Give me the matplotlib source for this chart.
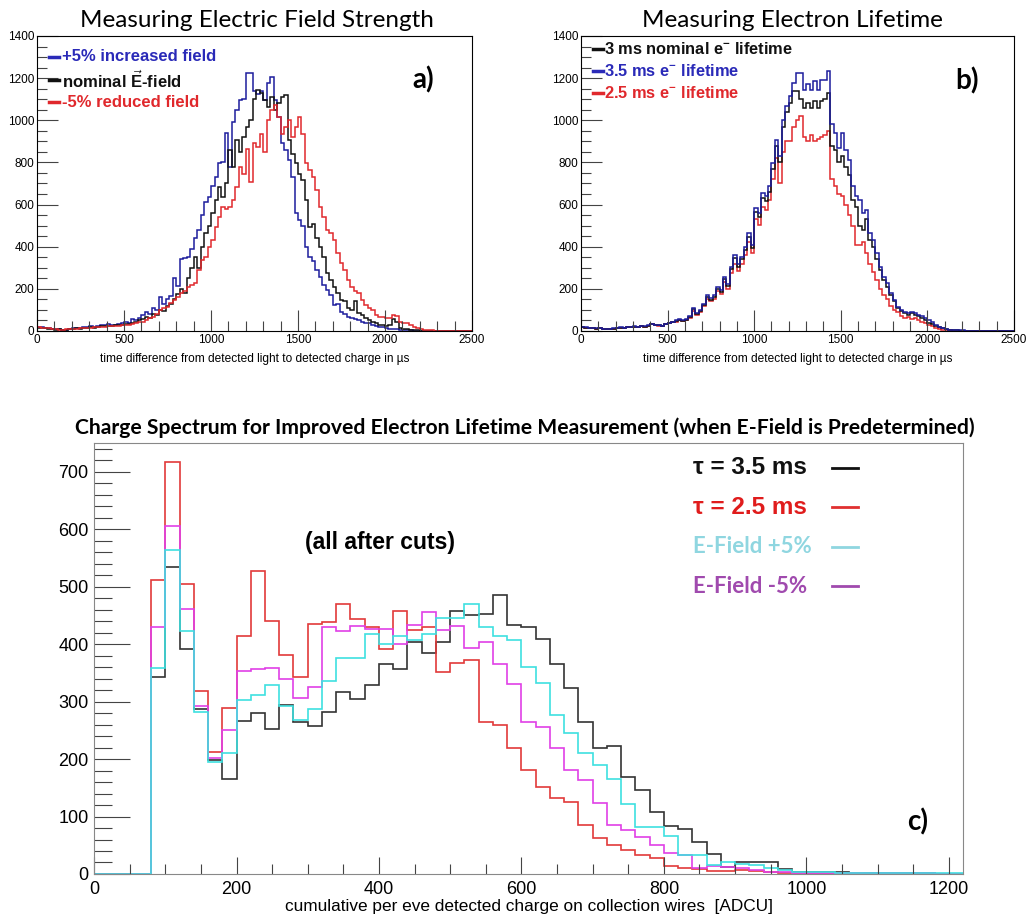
import numpy as np
import matplotlib
matplotlib.use("Agg")
import matplotlib.pyplot as plt
from matplotlib.ticker import MultipleLocator

plt.rcParams['font.family'] = ['Liberation Sans', 'DejaVu Sans']
plt.rcParams['mathtext.fontset'] = 'custom'
plt.rcParams['mathtext.rm'] = 'Liberation Sans'
plt.rcParams['mathtext.bf'] = 'Liberation Sans:bold'

# ---- panel a / b : drift time histograms, 20 us bins from 0 to 2500 ----
time_edges = np.arange(0, 2501, 20)

a_plus5 = [20, 18, 15, 12, 10, 8, 10, 6, 5, 8,
           12, 15, 12, 18, 20, 22, 18, 25, 28, 30,
           32, 28, 30, 35, 38, 45, 40, 55, 50, 60,
           75, 90, 80, 110, 100, 160, 130, 150, 165, 250,
           215, 340, 345, 350, 390, 440, 480, 550, 610, 635,
           690, 730, 795, 800, 940, 780, 990, 1050, 1095, 1100,
           1225, 1225, 1140, 1125, 1140, 1095, 1175, 1205, 1095, 1015,
           890, 858, 810, 730, 558, 525, 500, 400, 350, 330,
           290, 258, 220, 195, 170, 123, 130, 92, 80, 68,
           60, 55, 52, 45, 40, 36, 30, 25, 20, 18,
           15, 10, 8, 8, 5, 4, 3, 3, 2, 2,
           1, 1, 1, 1, 0, 1, 0, 0, 0, 0,
           0, 0, 0, 0, 0]
a_nominal = [15, 14, 12, 10, 8, 6, 8, 5, 6, 8,
             10, 12, 10, 15, 15, 18, 15, 20, 22, 25,
             25, 22, 28, 30, 30, 35, 32, 40, 45, 50,
             55, 65, 60, 80, 75, 100, 95, 120, 130, 150,
             175, 200, 180, 250, 300, 350, 300, 400, 463, 500,
             560, 620, 684, 636, 700, 858, 780, 905, 850, 920,
             970, 1000, 1100, 1145, 1130, 1095, 1063, 1110, 1048, 1080,
             1110, 1120, 905, 842, 795, 747, 715, 620, 495, 510,
             440, 400, 350, 273, 240, 210, 178, 147, 140, 110,
             100, 140, 85, 75, 60, 52, 45, 36, 30, 28,
             25, 28, 55, 45, 13, 10, 8, 5, 4, 3,
             2, 2, 1, 1, 1, 0, 0, 0, 0, 0,
             0, 0, 0, 0, 0]
a_minus5 = [18, 15, 15, 12, 10, 8, 5, 5, 8, 8,
            10, 10, 12, 12, 15, 15, 18, 18, 20, 20,
            22, 22, 25, 25, 28, 30, 30, 35, 40, 45,
            45, 52, 60, 68, 80, 100, 110, 115, 135, 147,
            160, 178, 190, 210, 218, 226, 290, 337, 350, 400,
            430, 495, 540, 590, 580, 590, 620, 684, 780, 747,
            866, 708, 890, 874, 937, 850, 1000, 1048, 1071, 1015,
            937, 970, 1000, 920, 970, 1015, 937, 795, 763, 731,
            668, 590, 540, 480, 463, 432, 368, 321, 290, 242,
            210, 190, 178, 147, 123, 110, 100, 76, 68, 65,
            60, 62, 76, 70, 44, 40, 36, 28, 20, 13,
            10, 5, 4, 3, 2, 2, 1, 1, 1, 0,
            0, 0, 0, 0, 0]

b_3ms = [18, 16, 14, 12, 11, 14, 10, 8, 9, 11,
         14, 16, 14, 18, 17, 20, 19, 23, 21, 26,
         33, 28, 27, 24, 33, 38, 43, 48, 52, 48,
         52, 66, 102, 80, 95, 125, 162, 148, 162, 200,
         186, 248, 215, 295, 345, 305, 340, 385, 445, 392,
         565, 540, 630, 615, 660, 770, 880, 800, 970, 1040,
         1080, 1140, 1140, 1100, 1060, 1080, 1060, 1090, 1060, 1090,
         1100, 1130, 880, 860, 800, 830, 780, 740, 620, 590,
         500, 480, 530, 430, 400, 340, 290, 240, 210, 170,
         140, 110, 95, 85, 75, 85, 75, 70, 60, 50,
         40, 35, 25, 18, 12, 8, 5, 4, 3, 2,
         2, 2, 1, 1, 1, 1, 0, 0, 0, 0,
         0, 0, 0, 0, 0]
b_35ms = [20, 18, 15, 12, 12, 15, 10, 8, 10, 12,
          15, 18, 15, 20, 18, 22, 20, 25, 22, 28,
          35, 30, 28, 25, 35, 40, 45, 50, 55, 50,
          55, 70, 108, 84, 100, 130, 170, 155, 170, 210,
          195, 258, 225, 306, 360, 320, 353, 400, 464, 409,
          583, 560, 654, 640, 686, 797, 908, 830, 1003, 1067,
          1114, 1177, 1225, 1225, 1146, 1170, 1146, 1185, 1146, 1193,
          1193, 1233, 980, 940, 869, 940, 861, 813, 686, 640,
          623, 560, 575, 464, 432, 369, 306, 258, 226, 179,
          147, 116, 100, 92, 84, 92, 84, 76, 70, 60,
          50, 44, 28, 20, 13, 10, 6, 5, 4, 3,
          3, 2, 2, 2, 1, 1, 1, 1, 1, 0,
          0, 0, 0, 0, 0]
b_25ms = [18, 16, 14, 12, 11, 14, 10, 8, 9, 11,
          14, 16, 14, 18, 17, 20, 19, 22, 20, 25,
          32, 27, 26, 23, 32, 36, 41, 45, 50, 46,
          50, 62, 95, 75, 90, 118, 152, 140, 152, 188,
          175, 232, 200, 275, 320, 285, 318, 360, 420, 370,
          530, 505, 590, 575, 620, 720, 820, 700, 850, 900,
          900, 970, 1000, 1020, 920, 900, 930, 900, 910, 920,
          930, 950, 720, 690, 650, 640, 600, 550, 500, 410,
          410, 420, 370, 320, 280, 240, 200, 170, 150, 120,
          100, 90, 70, 60, 65, 55, 60, 50, 45, 40,
          30, 22, 15, 10, 6, 4, 3, 2, 2, 1,
          1, 1, 1, 0, 0, 0, 0, 0, 0, 0,
          0, 0, 0, 0, 0]

# ---- panel c : charge spectrum, 20 ADCU bins from 0 to 1220 ----
charge_edges = np.arange(0, 1221, 20)

c_tau35 = [0, 0, 0, 0,
           343, 534, 392, 287, 198, 165, 266, 280, 253, 294,
           265, 258, 281, 316, 304, 329, 365, 356, 403, 384,
           403, 458, 451, 452, 485, 434,
           429, 409, 365, 324, 265, 219, 223, 168, 146, 108,
           84, 79, 55, 35, 13, 21, 20, 20, 9, 4,
           3, 3, 4, 2, 2, 1, 1, 2, 1, 0, 0]
c_tau25 = [0, 0, 0, 0,
           511, 717, 505, 318, 213, 288, 414, 528, 440, 381,
           342, 435, 438, 470, 443, 430, 391, 458, 425, 430,
           352, 367, 372, 264, 259, 220,
           181, 151, 132, 126, 85, 62, 50, 42, 33, 27,
           14, 10, 8, 6, 6, 7, 5, 3, 2, 1,
           1, 1, 0, 1, 0, 0, 0, 0, 0, 0, 0]
c_efield_p5 = [0, 0, 0, 0,
               358, 564, 422, 282, 195, 210, 303, 311, 329, 292,
               268, 287, 335, 375, 375, 418, 401, 414, 407, 418,
               445, 445, 470, 430, 414, 408,
               360, 332, 277, 246, 210, 190, 166, 122, 82, 81,
               66, 33, 33, 16, 20, 17, 16, 10, 7, 4,
               3, 3, 2, 2, 2, 2, 1, 2, 1, 1, 1]
c_efield_m5 = [0, 0, 0, 0,
               429, 606, 461, 292, 202, 251, 354, 356, 358, 340,
               306, 325, 429, 423, 432, 427, 427, 401, 434, 455,
               425, 431, 394, 404, 365, 331,
               265, 256, 220, 181, 164, 123, 85, 77, 64, 50,
               36, 33, 10, 14, 12, 10, 7, 4, 3, 2,
               2, 1, 2, 1, 1, 1, 2, 1, 1, 0, 0]

BLUE = '#1c1c9c'
RED = '#e0282c'
BLACK = '#111111'

fig = plt.figure(figsize=(10.29, 9.23), dpi=100)
ax_a = fig.add_axes([0.036, 0.6414, 0.4227, 0.3196])
ax_b = fig.add_axes([0.5646, 0.6414, 0.4208, 0.3196])
ax_c = fig.add_axes([0.0914, 0.0531, 0.8445, 0.467])


def root_style(ax, xmaj, xmin, ymaj, ymin, size, major_len, minor_len, xmax, ymax):
    ax.set_xlim(0, xmax)
    ax.set_ylim(0, ymax)
    ax.xaxis.set_major_locator(MultipleLocator(xmaj))
    ax.xaxis.set_minor_locator(MultipleLocator(xmin))
    ax.yaxis.set_major_locator(MultipleLocator(ymaj))
    ax.yaxis.set_minor_locator(MultipleLocator(ymin))
    ax.tick_params(which='both', direction='in', top=False, right=False,
                   labelsize=size, width=0.8, color='#444444')
    ax.tick_params(which='major', length=major_len, pad=2)
    ax.tick_params(which='minor', length=minor_len)


# panel a
ax_a.stairs(a_plus5, time_edges, color=BLUE, lw=1.1)
ax_a.stairs(a_nominal, time_edges, color=BLACK, lw=1.1)
ax_a.stairs(a_minus5, time_edges, color=RED, lw=1.1)
root_style(ax_a, 500, 100, 200, 50, 8.5, 15, 7, 2500, 1400)
ax_a.set_xlabel('time difference from detected light to detected charge in \u00b5s', fontsize=8.6, labelpad=5)
fig.text(0.250, 0.978, 'Measuring Electric Field Strength', ha='center', va='center',
         fontsize=17.5, family='Lato')

leg_a = [('+5% increased field', '#2a2ab8', 0.929),
         (r'nominal $\vec{\mathbf{E}}$-field', BLACK, 0.851),
         ('-5% reduced field', RED, 0.776)]
for label, col, y in leg_a:
    ax_a.plot([0.028, 0.051], [y, y], color=col, lw=2.5, transform=ax_a.transAxes)
    ax_a.text(0.057, y, label, color=col, fontsize=12, fontweight='bold',
              va='center', ha='left', transform=ax_a.transAxes)
ax_a.text(0.887, 0.851, 'a)', fontsize=20, fontweight='bold', family='Lato',
          ha='center', va='center', transform=ax_a.transAxes)

# panel b
ax_b.stairs(b_25ms, time_edges, color=RED, lw=1.1)
ax_b.stairs(b_3ms, time_edges, color=BLACK, lw=1.1)
ax_b.stairs(b_35ms, time_edges, color=BLUE, lw=1.1)
root_style(ax_b, 500, 100, 200, 50, 8.5, 15, 7, 2500, 1400)
ax_b.set_xlabel('time difference from detected light to detected charge in \u00b5s', fontsize=8.6, labelpad=5)
fig.text(0.770, 0.978, 'Measuring Electron Lifetime', ha='center', va='center',
         fontsize=17.5, family='Lato')

leg_b = [(r'3 ms nominal e$^{\mathbf{-}}$ lifetime', BLACK, 0.956),
         (r'3.5 ms e$^{\mathbf{-}}$ lifetime', '#2a2ab8', 0.881),
         (r'2.5 ms e$^{\mathbf{-}}$ lifetime', RED, 0.807)]
for label, col, y in leg_b:
    ax_b.plot([0.028, 0.051], [y, y], color=col, lw=2.5, transform=ax_b.transAxes)
    ax_b.text(0.053, y, label, color=col, fontsize=11.8, fontweight='bold',
              va='center', ha='left', transform=ax_b.transAxes)
ax_b.text(0.891, 0.847, 'b)', fontsize=20, fontweight='bold', family='Lato',
          ha='center', va='center', transform=ax_b.transAxes)

# panel c
ax_c.stairs(c_tau35, charge_edges, color='#333333', lw=1.2)
ax_c.stairs(c_tau25, charge_edges, color='#e23a3a', lw=1.2)
ax_c.stairs(c_efield_m5, charge_edges, color='#e040e6', lw=1.2)
ax_c.stairs(c_efield_p5, charge_edges, color='#3ee0e0', lw=1.2)
root_style(ax_c, 200, 50, 100, 20, 13, 26, 13, 1220, 750)
ax_c.tick_params(axis='x', which='major', length=12, pad=5)
ax_c.tick_params(axis='x', which='minor', length=7)
ax_c.tick_params(axis='y', which='major', pad=4)
for s in ax_c.spines.values():
    s.set_color('#888888')
ax_c.set_xlabel('cumulative per eve detected charge on collection wires  [ADCU]', fontsize=12.4, labelpad=1)
fig.text(0.510, 0.537, 'Charge Spectrum for Improved Electron Lifetime Measurement (when E-Field is Predetermined)',
         ha='center', va='center', fontsize=15.2, fontweight='bold', family='Lato')

leg_c = [('\u03c4 = 3.5 ms', BLACK, '#111111', 0.942, 'Liberation Sans', 17.5),
         ('\u03c4 = 2.5 ms', '#e01c1c', '#e03030', 0.851, 'Liberation Sans', 17.5),
         ('E-Field +5%', '#8fd6e0', '#8fd6e0', 0.759, 'Lato', 16),
         ('E-Field -5%', '#a04aae', '#a04aae', 0.668, 'Lato', 16)]
for label, tcol, lcol, y, fam, fs in leg_c:
    ax_c.text(0.689, y, label, color=tcol, fontsize=fs, fontweight='bold', family=fam,
              ha='left', va='center', transform=ax_c.transAxes)
    ax_c.plot([0.849, 0.879], [y, y], color=lcol, lw=2, transform=ax_c.transAxes)
ax_c.text(0.329, 0.768, '(all after cuts)', fontsize=16.5, fontweight='bold',
          ha='center', va='center', transform=ax_c.transAxes)
ax_c.text(0.948, 0.121, 'c)', fontsize=20, fontweight='bold', family='Lato',
          ha='center', va='center', transform=ax_c.transAxes)

fig.savefig('out.png', dpi=100)
